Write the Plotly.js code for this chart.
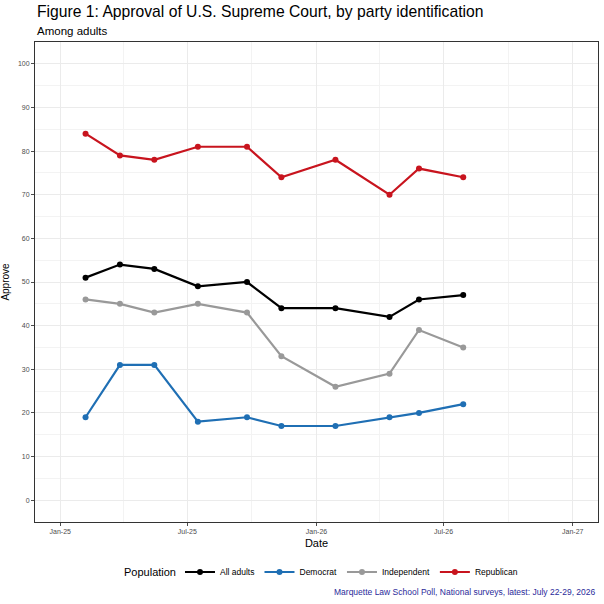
<!DOCTYPE html>
<html>
<head>
<meta charset="utf-8">
<script src="https://cdn.plot.ly/plotly-3.0.1.min.js"></script>
<style>
  html, body { margin: 0; padding: 0; background: #fff; }
  #chart { width: 604px; height: 604px; }
</style>
</head>
<body>
<div id="chart"></div>
<script>
var surveyDates = ['2025-02-06', '2025-03-27', '2025-05-15', '2025-07-16', '2025-09-24',
                   '2025-11-12', '2026-01-28', '2026-04-15', '2026-05-27', '2026-07-29'];

var allAdults   = [51, 54, 53, 49, 50, 44, 44, 42, 46, 47];
var democrat    = [19, 31, 31, 18, 19, 17, 17, 19, 20, 22];
var independent = [46, 45, 43, 45, 43, 33, 26, 29, 39, 35];
var republican  = [84, 79, 78, 81, 81, 74, 78, 70, 76, 74];

var seriesNames = ['All adults', 'Democrat', 'Independent', 'Republican'];
var seriesColors = ['#000000', '#1f6fb4', '#999999', '#c8141e'];
var seriesValues = [allAdults, democrat, independent, republican];

var data = seriesNames.map(function (name, i) {
  return {
    x: surveyDates,
    y: seriesValues[i],
    name: name,
    type: 'scatter',
    mode: 'lines+markers',
    line: { color: seriesColors[i], width: 2.2 },
    marker: { color: seriesColors[i], size: 6 }
  };
});

function axisStyle() {
  return {
    tickfont: { family: 'Liberation Sans, Arial, sans-serif', size: 7, color: '#4d4d4d' },
    ticks: 'outside',
    ticklen: 3,
    tickcolor: '#4d4d4d',
    showgrid: true,
    gridcolor: '#ebebeb',
    gridwidth: 1,
    zeroline: false,
    showline: true,
    mirror: true,
    linecolor: '#333333',
    linewidth: 1,
    automargin: false
  };
}

var xaxis = axisStyle();
Object.assign(xaxis, {
  type: 'date',
  range: ['2024-11-26', '2027-02-06'],
  tick0: '2025-01-01',
  dtick: 'M6',
  tickformat: '%b-%y',
  minor: { dtick: 'M3', showgrid: true, gridcolor: '#f3f3f3', gridwidth: 0.6 },
  title: { text: 'Date', font: { size: 11 }, standoff: 4 }
});

var yaxis = axisStyle();
Object.assign(yaxis, {
  range: [-5, 105],
  tick0: 0,
  dtick: 10,
  minor: { dtick: 5, showgrid: true, gridcolor: '#f3f3f3', gridwidth: 0.6 },
  title: { text: 'Approve', font: { size: 10 }, standoff: 6 }
});

var layout = {
  width: 604,
  height: 604,
  margin: { l: 35, r: 6, t: 42, b: 82 },
  paper_bgcolor: '#ffffff',
  plot_bgcolor: '#ffffff',
  font: { family: 'Liberation Sans, Arial, sans-serif', color: '#000000' },
  showlegend: true,
  xaxis: xaxis,
  yaxis: yaxis,
  legend: {
    orientation: 'h',
    xref: 'container',
    yref: 'container',
    x: 0.298,
    xanchor: 'left',
    y: 0.053,
    yanchor: 'middle',
    font: { size: 8.5 },
    itemwidth: 30,
    tracegroupgap: 0
  },
  annotations: [
    {
      text: 'Figure 1: Approval of U.S. Supreme Court, by party identification',
      xref: 'paper', yref: 'paper', x: 0, y: 1, yshift: 20,
      xanchor: 'left', yanchor: 'bottom', showarrow: false,
      font: { size: 15.7 }
    },
    {
      text: 'Among adults',
      xref: 'paper', yref: 'paper', x: 0, y: 1, yshift: 3,
      xanchor: 'left', yanchor: 'bottom', showarrow: false,
      font: { size: 11.5 }
    },
    {
      text: 'Population',
      xref: 'paper', yref: 'paper', x: 0.254, y: 0, yshift: -50,
      xanchor: 'right', yanchor: 'middle', showarrow: false,
      font: { size: 11 }
    },
    {
      text: 'Marquette Law School Poll, National surveys, latest: July 22-29, 2026',
      xref: 'paper', yref: 'paper', x: 1, y: 0, yshift: -70,
      xanchor: 'right', yanchor: 'middle', showarrow: false,
      font: { size: 8.5, color: '#2a2a9a' }
    }
  ]
};

Plotly.newPlot('chart', data, layout, { displayModeBar: false, responsive: false });
</script>
</body>
</html>
